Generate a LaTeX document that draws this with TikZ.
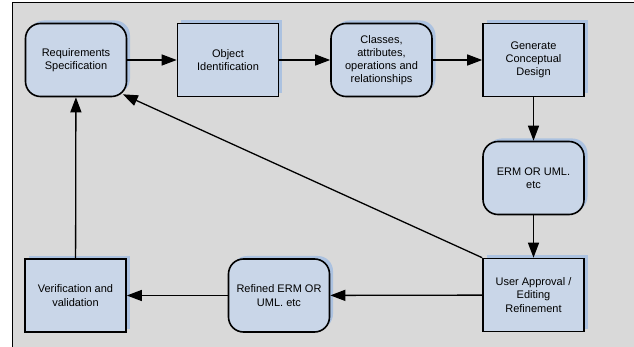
\documentclass[tikz,border=0pt]{standalone}
\usepackage{fontspec}
\setmainfont{Liberation Sans}
\usetikzlibrary{arrows.meta,shadows}
\definecolor{bgcol}{RGB}{217,217,217}
\definecolor{boxcol}{RGB}{201,214,232}
\definecolor{shcol}{RGB}{172,194,224}
\tikzset{
  base/.style={draw=black, line width=1.6pt, fill=boxcol, minimum width=101pt, minimum height=73pt,
    align=center, font=\fontsize{11}{13.2}\selectfont, inner sep=2pt,
    general shadow={fill=shcol, draw=none, shadow xshift=3.5pt, shadow yshift=3pt}},
  rbox/.style={base, rounded corners=15pt},
  sbox/.style={base},
  conn/.style={line width=1.3pt, -{Triangle[length=15pt,width=11pt]}}
}
\begin{document}
\begin{tikzpicture}[x=1pt,y=-1pt]
\useasboundingbox (0,0) rectangle (634,347);
\fill[bgcol] (12,3) rectangle (634,347);
\draw[line width=1pt] (12,347) -- (12,3) -- (634,3);
\node[rbox] (req) at (76,60) {Requirements\\Specification};
\node[sbox] (obj) at (228,60) {Object\\Identification};
\node[rbox] (cls) at (381.5,60) {Classes,\\attributes,\\operations and\\relationships};
\node[sbox] (gen) at (533.5,60) {Generate\\Conceptual\\Design};
\node[rbox] (erm) at (533.5,178) {ERM OR UML.\\etc};
\node[sbox] (usr) at (533.5,295) {User Approval /\\Editing\\Refinement};
\node[rbox] (ref) at (279,295.5) {Refined ERM OR\\UML. etc};
\node[sbox] (ver) at (75.5,295.5) {Verification and\\validation};
\coordinate (reqc) at ([xshift=-4.5pt,yshift=3pt]req.south east);
\draw[conn] (req) -- (obj);
\draw[conn] (obj) -- (cls);
\draw[conn] (cls) -- (gen);
\draw[conn] (gen) -- (erm);
\draw[conn] (erm) -- (usr);
\draw[conn] (usr) -- (ref);
\draw[conn] (ref) -- (ver);
\draw[conn] (ver) -- (req);
\draw[conn] (usr.north west) -- (reqc);
\end{tikzpicture}
\end{document}
